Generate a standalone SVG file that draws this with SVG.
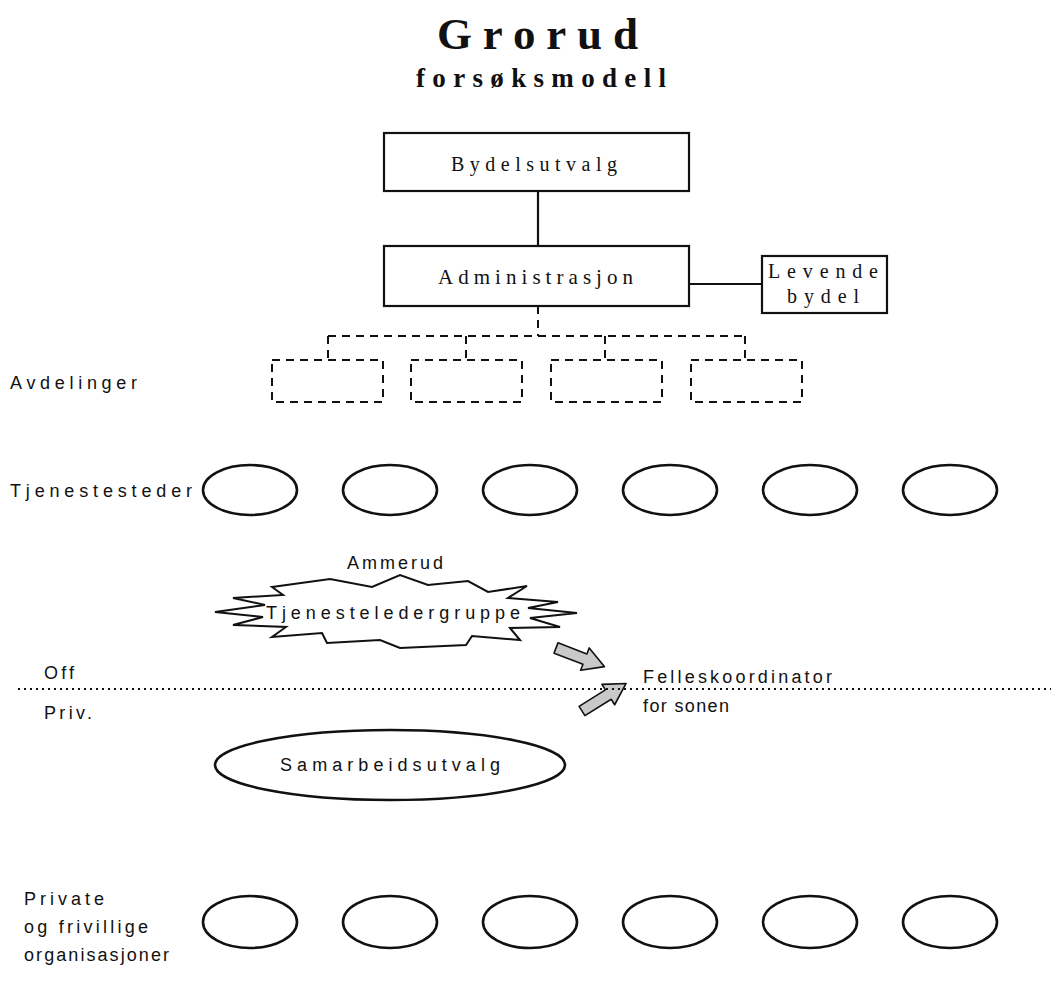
<svg xmlns="http://www.w3.org/2000/svg" width="1051" height="983" viewBox="0 0 1051 983">
  <style>
    .serif { font-family: "Liberation Serif", "Times New Roman", serif; fill: #111; }
    .sans { font-family: "Liberation Sans", Arial, sans-serif; fill: #111; font-size: 18px; }
    .box { fill: #fff; stroke: #111; stroke-width: 2.2; }
    .dbox { fill: none; stroke: #111; stroke-width: 2; stroke-dasharray: 8 6; }
    .oval { fill: none; stroke: #111; stroke-width: 2.6; }
    .link { fill: none; stroke: #111; stroke-width: 2.2; }
    .dlink { fill: none; stroke: #111; stroke-width: 2; stroke-dasharray: 8 6; }
    .arrow { fill: #c9c9c9; stroke: #111; stroke-width: 1.6; stroke-linejoin: round; }
  </style>
  <defs>
    <!-- block arrow pointing along +x, tail at origin -->
    <polygon id="blockArrow" class="arrow" points="0,-5.5 31,-5.5 31,-12 52,0 31,12 31,5.5 0,5.5"/>
  </defs>

  <rect width="1051" height="983" fill="#fff"/>

  <!-- title -->
  <g id="title">
    <text class="serif" x="437" y="49" font-size="45" font-weight="bold" textLength="201" lengthAdjust="spacing">Grorud</text>
    <text class="serif" x="416" y="87" font-size="27" font-weight="bold" textLength="250" lengthAdjust="spacing">forsøksmodell</text>
  </g>

  <!-- connectors -->
  <g id="connectors">
    <line class="link" x1="538" y1="191" x2="538" y2="246"/>
    <line class="link" x1="689" y1="284" x2="762" y2="284"/>
    <line class="dlink" x1="538" y1="306" x2="538" y2="336"/>
    <line class="dlink" x1="328" y1="336" x2="745" y2="336"/>
    <line class="dlink" x1="328" y1="336" x2="328" y2="360"/>
    <line class="dlink" x1="466" y1="336" x2="466" y2="360"/>
    <line class="dlink" x1="605" y1="336" x2="605" y2="360"/>
    <line class="dlink" x1="745" y1="336" x2="745" y2="360"/>
    <use href="#blockArrow" transform="translate(556,648) rotate(21)"/>
    <use href="#blockArrow" transform="translate(582,711) rotate(-32)"/>
  </g>

  <!-- sector divider -->
  <g id="divider">
    <line x1="18" y1="689" x2="1051" y2="689" stroke="#111" stroke-width="2" stroke-dasharray="2 4"/>
  </g>

  <g id="bydelsutvalg">
    <rect class="box" x="384" y="133" width="305" height="58"/>
    <text class="serif" x="451" y="171" font-size="20" textLength="166" lengthAdjust="spacing">Bydelsutvalg</text>
  </g>

  <g id="administrasjon">
    <rect class="box" x="384" y="246" width="305" height="60"/>
    <text class="serif" x="438" y="284" font-size="21" textLength="195" lengthAdjust="spacing">Administrasjon</text>
  </g>

  <g id="levende-bydel">
    <rect class="box" x="762" y="256" width="125" height="57"/>
    <text class="serif" x="768" y="278" font-size="20" textLength="110" lengthAdjust="spacing">Levende</text>
    <text class="serif" x="787" y="303" font-size="20" textLength="72" lengthAdjust="spacing">bydel</text>
  </g>

  <!-- departments -->
  <g id="avdelinger">
    <text class="sans" x="10" y="389" textLength="127" lengthAdjust="spacing">Avdelinger</text>
    <rect class="dbox" x="272" y="360" width="111" height="42"/>
    <rect class="dbox" x="411" y="360" width="111" height="42"/>
    <rect class="dbox" x="551" y="360" width="111" height="42"/>
    <rect class="dbox" x="691" y="360" width="111" height="42"/>
  </g>

  <!-- service units -->
  <g id="tjenestesteder">
    <text class="sans" x="10" y="497" textLength="182" lengthAdjust="spacing">Tjenestesteder</text>
    <ellipse class="oval" cx="250" cy="490" rx="47" ry="25"/>
    <ellipse class="oval" cx="390" cy="490" rx="47" ry="25"/>
    <ellipse class="oval" cx="530" cy="490" rx="47" ry="25"/>
    <ellipse class="oval" cx="670" cy="490" rx="47" ry="25"/>
    <ellipse class="oval" cx="810" cy="490" rx="47" ry="25"/>
    <ellipse class="oval" cx="950" cy="490" rx="47" ry="25"/>
  </g>

  <g id="tjenesteledergruppe">
    <text class="sans" x="347" y="569" textLength="96" lengthAdjust="spacing">Ammerud</text>
    <polygon fill="#fff" stroke="#111" stroke-width="2" stroke-linejoin="miter" points="272,587 330,579 372,587 400,575 428,585 468,581 488,592 527,586 508,598 558,602 528,608 577,613 530,618 560,627 510,628 520,640 472,636 466,645 400,648 380,640 327,643 322,633 272,637 286,627 233,625 263,617 215,612 265,605 233,598 283,595"/>
    <text class="sans" x="266" y="619" font-size="19" textLength="254" lengthAdjust="spacing">Tjenesteledergruppe</text>
  </g>

  <g id="sector-labels">
    <text class="sans" x="44" y="679" textLength="30" lengthAdjust="spacing">Off</text>
    <text class="sans" x="44" y="719" textLength="48" lengthAdjust="spacing">Priv.</text>
  </g>

  <g id="felleskoordinator">
    <text class="sans" x="643" y="683" textLength="189" lengthAdjust="spacing">Felleskoordinator</text>
    <text class="sans" x="643" y="712" textLength="86" lengthAdjust="spacing">for sonen</text>
  </g>

  <g id="samarbeidsutvalg">
    <ellipse class="oval" cx="390" cy="765" rx="175" ry="35"/>
    <text class="sans" x="280" y="771" font-size="17" textLength="220" lengthAdjust="spacing">Samarbeidsutvalg</text>
  </g>

  <!-- private and voluntary organisations -->
  <g id="private-organisasjoner">
    <text class="sans" x="24" y="905" textLength="80" lengthAdjust="spacing">Private</text>
    <text class="sans" x="24" y="933" textLength="124" lengthAdjust="spacing">og frivillige</text>
    <text class="sans" x="24" y="961" textLength="145" lengthAdjust="spacing">organisasjoner</text>
    <ellipse class="oval" cx="250" cy="922" rx="47" ry="26"/>
    <ellipse class="oval" cx="390" cy="922" rx="47" ry="26"/>
    <ellipse class="oval" cx="530" cy="922" rx="47" ry="26"/>
    <ellipse class="oval" cx="670" cy="922" rx="47" ry="26"/>
    <ellipse class="oval" cx="810" cy="922" rx="47" ry="26"/>
    <ellipse class="oval" cx="950" cy="922" rx="47" ry="26"/>
  </g>
</svg>
